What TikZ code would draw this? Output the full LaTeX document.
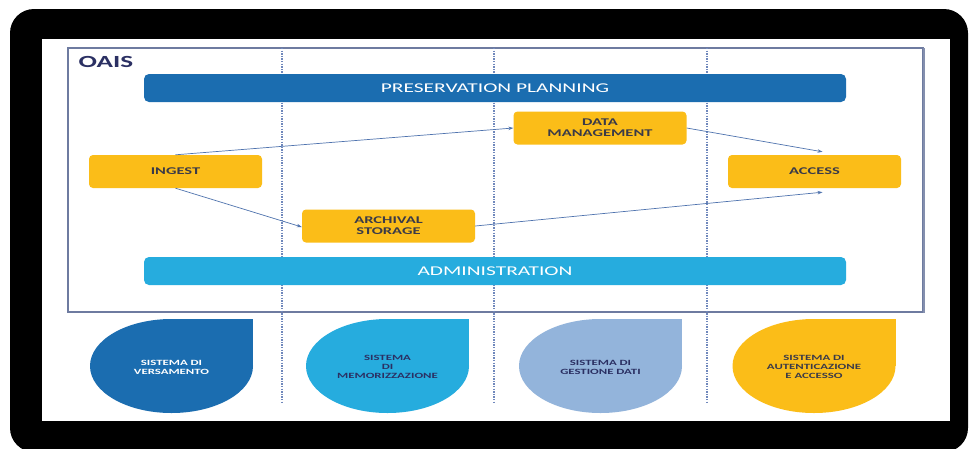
\documentclass[tikz,border=0pt]{standalone}
\usepackage{fontspec}
\setmainfont[FakeStretch=1.6]{Carlito}
\usetikzlibrary{calc,arrows.meta}
\definecolor{planblue}{HTML}{1B6DB0}
\definecolor{adminblue}{HTML}{26ACDE}
\definecolor{paleblue}{HTML}{93B4DB}
\definecolor{oaisyellow}{HTML}{FBBD18}
\definecolor{arrowblue}{HTML}{4F73AE}
\definecolor{framegray}{HTML}{6E7BA0}
\definecolor{dotblue}{HTML}{7088BC}
\definecolor{textnavy}{HTML}{2B3063}
\definecolor{boxtext}{HTML}{3A3A48}

\begin{document}
\begin{tikzpicture}
  [x=1pt,y=-1pt,
   barN/.style={rounded corners=5pt,minimum width=702pt,minimum height=28pt,inner sep=0pt,
                text=white,font=\fontsize{13.4}{15}\selectfont},
   funcN/.style={fill=oaisyellow,rounded corners=4pt,minimum width=173pt,minimum height=33pt,
                 inner sep=0pt,align=center,text=boxtext,font=\bfseries\fontsize{10.3}{11}\selectfont},
   sysN/.style={align=center,font=\bfseries\fontsize{8}{9}\selectfont},
   flow/.style={-{Stealth[length=5pt,width=3.5pt]},arrowblue,line width=0.7pt},
   lane/.style={dotblue,line width=1.3pt,dash pattern=on 1.3pt off 1.3pt},
  ]

 \useasboundingbox (0,0) rectangle (971,448);
 \fill[white] (0,0) rectangle (971,448);
 \fill[black,rounded corners=24pt] (10,9) rectangle (968,452);
 \fill[white] (42,39) rectangle (950,421);

 \draw[framegray,line width=1.2pt] (68,48) rectangle (923,312);
 \draw[framegray!85,line width=2.5pt] (924,48) -- (924,313);

 \foreach \x in {282,494,707}
   \draw[lane] (\x,48) -- (\x,403);

 \node[anchor=west,text=textnavy,font=\bfseries\fontsize{17}{17}\selectfont] (oais) at (75,62) {OAIS};

 \node[barN,fill=planblue]  (plan)  at (495,88)  {PRESERVATION PLANNING};
 \node[barN,fill=adminblue] (admin) at (495,271) {ADMINISTRATION};

 \node[funcN] (ingest)   at (175.5,171.5) {INGEST};
 \node[funcN] (archival) at (388.5,226)   {ARCHIVAL\\STORAGE};
 \node[funcN] (datamgmt) at (600,128)     {DATA\\MANAGEMENT};
 \node[funcN] (access)   at (814.5,171.5) {ACCESS};

 \draw[flow] (ingest.north) -- (datamgmt.west);
 \draw[flow] (ingest.south) -- ($(archival.west)+(0,1)$);
 \draw[flow] (datamgmt.east) -- ($(access.north)+(8,-3)$);
 \draw[flow] (archival.east) -- ($(access.south)+(8,4)$);

 \foreach \cx/\col/\tcol/\txt [count=\i] in
   {171.5/planblue/white/{SISTEMA DI\\VERSAMENTO},
    387.5/adminblue/textnavy/{SISTEMA\\DI\\MEMORIZZAZIONE},
    600.5/paleblue/textnavy/{SISTEMA DI\\GESTIONE DATI},
    814/oaisyellow/boxtext/{SISTEMA DI\\AUTENTICAZIONE\\E ACCESSO}}
 {
   \fill[\col] (\cx,366) ellipse [x radius=81.5, y radius=47];
   \fill[\col] (\cx,319) rectangle (\cx+81.5,366);
   \node[sysN,text=\tcol] (sys\i) at (\cx,367) {\txt};
 }

\end{tikzpicture}
\end{document}
